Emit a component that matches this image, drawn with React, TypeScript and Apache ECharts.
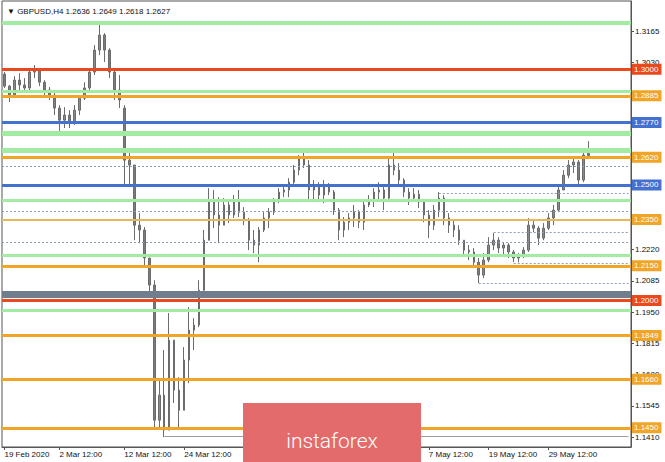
import React, { useEffect, useRef } from 'react';
import * as echarts from 'echarts';

const FONT = '"Liberation Sans", Arial, sans-serif';

// Title / last bar
const symbolName = 'GBPUSD,H4';
const lastBar = [1.2636, 1.2649, 1.2618, 1.2627];

// Candles (one candle ~ a group of H4 bars)
const openV = [
  1.2979, 1.2927, 1.2884, 1.2953, 1.2932, 1.2919, 1.2988, 1.2996, 1.2944, 1.2910,
  1.2888, 1.2832, 1.2780, 1.2802, 1.2772, 1.2823, 1.2875, 1.2919, 1.2988, 1.3083,
  1.3148, 1.3083, 1.2988, 1.2910, 1.2832, 1.2607, 1.2586, 1.2326, 1.2305, 1.2184,
  1.2067, 1.1483, 1.1591, 1.1440, 1.1829, 1.1613, 1.1526, 1.1743, 1.1872, 1.1894,
  1.2045, 1.2261, 1.2434, 1.2370, 1.2326, 1.2413, 1.2370, 1.2434, 1.2382, 1.2348,
  1.2261, 1.2240, 1.2305, 1.2357, 1.2382, 1.2434, 1.2469, 1.2478, 1.2512, 1.2564,
  1.2616, 1.2586, 1.2478, 1.2499, 1.2456, 1.2499, 1.2469, 1.2391, 1.2305, 1.2339,
  1.2357, 1.2382, 1.2339, 1.2413, 1.2434, 1.2469, 1.2478, 1.2443, 1.2586, 1.2564,
  1.2521, 1.2469, 1.2443, 1.2460, 1.2426, 1.2370, 1.2326, 1.2391, 1.2443, 1.2357,
  1.2326, 1.2305, 1.2261, 1.2218, 1.2210, 1.2166, 1.2110, 1.2175, 1.2240, 1.2261,
  1.2227, 1.2240, 1.2210, 1.2184, 1.2192, 1.2218, 1.2326, 1.2313, 1.2270, 1.2313,
  1.2357, 1.2391, 1.2478, 1.2542, 1.2586, 1.2599, 1.2521, 1.2636,
];
const closeV = [
  1.2927, 1.2884, 1.2953, 1.2932, 1.2919, 1.2988, 1.2996, 1.2944, 1.2910, 1.2888,
  1.2832, 1.2780, 1.2802, 1.2772, 1.2823, 1.2875, 1.2919, 1.2988, 1.3083, 1.3148,
  1.3083, 1.2988, 1.2910, 1.2867, 1.2607, 1.2586, 1.2326, 1.2305, 1.2184, 1.2067,
  1.1483, 1.1591, 1.1440, 1.1829, 1.1613, 1.1526, 1.1743, 1.1872, 1.1894, 1.2045,
  1.2261, 1.2434, 1.2370, 1.2326, 1.2413, 1.2370, 1.2434, 1.2382, 1.2348, 1.2261,
  1.2240, 1.2305, 1.2357, 1.2382, 1.2434, 1.2469, 1.2478, 1.2512, 1.2564, 1.2616,
  1.2586, 1.2478, 1.2499, 1.2456, 1.2499, 1.2469, 1.2391, 1.2305, 1.2339, 1.2357,
  1.2382, 1.2339, 1.2413, 1.2434, 1.2469, 1.2478, 1.2443, 1.2586, 1.2564, 1.2521,
  1.2469, 1.2443, 1.2460, 1.2426, 1.2370, 1.2326, 1.2391, 1.2443, 1.2357, 1.2326,
  1.2305, 1.2261, 1.2218, 1.2210, 1.2166, 1.2110, 1.2175, 1.2240, 1.2261, 1.2227,
  1.2240, 1.2210, 1.2184, 1.2192, 1.2218, 1.2326, 1.2313, 1.2270, 1.2313, 1.2357,
  1.2391, 1.2478, 1.2542, 1.2586, 1.2599, 1.2521, 1.2629, 1.2627,
];
const lowV = [
  1.2919, 1.2858, 1.2875, 1.2910, 1.2897, 1.2910, 1.2962, 1.2927, 1.2888, 1.2867,
  1.2802, 1.2728, 1.2746, 1.2746, 1.2759, 1.2802, 1.2867, 1.2910, 1.2975, 1.3061,
  1.3031, 1.2962, 1.2867, 1.2832, 1.2491, 1.2499, 1.2261, 1.2248, 1.2153, 1.2011,
  1.1453, 1.1453, 1.1410, 1.1440, 1.1557, 1.1453, 1.1526, 1.1643, 1.1786, 1.1885,
  1.2024, 1.2261, 1.2313, 1.2248, 1.2326, 1.2335, 1.2357, 1.2361, 1.2326, 1.2218,
  1.2205, 1.2166, 1.2296, 1.2313, 1.2370, 1.2421, 1.2447, 1.2447, 1.2499, 1.2542,
  1.2573, 1.2434, 1.2434, 1.2426, 1.2421, 1.2456, 1.2370, 1.2261, 1.2274, 1.2305,
  1.2318, 1.2313, 1.2305, 1.2404, 1.2404, 1.2426, 1.2391, 1.2434, 1.2542, 1.2499,
  1.2447, 1.2413, 1.2426, 1.2400, 1.2339, 1.2270, 1.2305, 1.2361, 1.2326, 1.2292,
  1.2274, 1.2240, 1.2197, 1.2175, 1.2153, 1.2076, 1.2097, 1.2166, 1.2218, 1.2205,
  1.2197, 1.2184, 1.2166, 1.2166, 1.2184, 1.2210, 1.2296, 1.2240, 1.2261, 1.2305,
  1.2326, 1.2382, 1.2478, 1.2529, 1.2551, 1.2503, 1.2512, 1.2616,
];
const highV = [
  1.2988, 1.2932, 1.2970, 1.2983, 1.2962, 1.3005, 1.3018, 1.3005, 1.2953, 1.2923,
  1.2901, 1.2845, 1.2836, 1.2823, 1.2845, 1.2888, 1.2944, 1.3005, 1.3104, 1.3204,
  1.3156, 1.3091, 1.3005, 1.2975, 1.2845, 1.2650, 1.2586, 1.2378, 1.2318, 1.2184,
  1.2088, 1.1656, 1.1786, 1.1946, 1.1829, 1.1669, 1.1799, 1.1972, 1.1924, 1.2088,
  1.2305, 1.2486, 1.2478, 1.2447, 1.2443, 1.2434, 1.2456, 1.2478, 1.2404, 1.2357,
  1.2305, 1.2318, 1.2382, 1.2400, 1.2443, 1.2486, 1.2495, 1.2529, 1.2586, 1.2629,
  1.2646, 1.2607, 1.2521, 1.2512, 1.2521, 1.2508, 1.2478, 1.2400, 1.2361, 1.2378,
  1.2413, 1.2391, 1.2434, 1.2456, 1.2486, 1.2512, 1.2495, 1.2616, 1.2642, 1.2594,
  1.2529, 1.2486, 1.2486, 1.2478, 1.2434, 1.2391, 1.2413, 1.2469, 1.2456, 1.2378,
  1.2348, 1.2326, 1.2261, 1.2240, 1.2227, 1.2184, 1.2205, 1.2274, 1.2292, 1.2274,
  1.2253, 1.2248, 1.2218, 1.2205, 1.2231, 1.2357, 1.2348, 1.2322, 1.2335, 1.2378,
  1.2413, 1.2499, 1.2564, 1.2607, 1.2620, 1.2607, 1.2650, 1.2689,
];

const totalSlots = 126; // includes empty right shift
const xLabelIndex = [0, 11, 24, 36, 85, 97, 109];
const xLabelText = ['19 Feb 2020', '2 Mar 12:00', '12 Mar 12:00', '24 Mar 12:00', '7 May 12:00', '19 May 12:00', '29 May 12:00'];

const yTicks = [1.1410, 1.1545, 1.1680, 1.1815, 1.1950, 1.2085, 1.2220, 1.2355, 1.2490, 1.2625, 1.2760, 1.2895, 1.3030, 1.3165];

// Horizontal levels
const greenLevels = [1.3201, 1.2907, 1.2725, 1.2650, 1.2434, 1.2197, 1.1959];
const greenWidths = [4, 3, 5, 5, 3, 3, 3];
const orangeLevels = [1.2885, 1.2620, 1.2150, 1.1849, 1.1660, 1.1450];
const goldLevels = [1.2350];
const redLevels = [1.3000, 1.2000];
const blueLevels = [1.2770, 1.2500];
const slateLevels = [1.2026];
const dashedFull = [1.2581, 1.2387, 1.2250];
const dashedPartialPrice = [1.2466, 1.2297, 1.2162, 1.2073];
const dashedPartialFrom = [87, 98, 102, 95];
const lowLinePrice = [1.1414];
const lowLineFrom = [32];

const C_GREEN = '#a3eaa3';
const C_ORANGE = '#f0a428';
const C_GOLD = '#e9b658';
const C_RED = '#e8491d';
const C_BLUE = '#4470d0';
const C_SLATE = '#6f7d8c';
const C_DASH = '#8e9db2';

function tag(bg: string, v: number) {
  const txt = v.toFixed(4);
  return {
    show: true,
    position: 'end',
    distance: 1,
    formatter: () => txt,
    backgroundColor: bg,
    color: '#ffffff',
    fontSize: 8,
    fontFamily: FONT,
    padding: [2, 3, 1, 2],
  };
}
const noLabel = { show: false };

export default function App() {
  const ref = useRef<HTMLDivElement>(null);
  useEffect(() => {
    document.body.style.margin = '0';
    const chart = echarts.init(ref.current!, null, { renderer: 'svg' });

    const cats = Array.from({ length: totalSlots }, (_, i) => 'c' + i);
    const labelFor = (i: number) => {
      const k = xLabelIndex.indexOf(i);
      return k >= 0 ? xLabelText[k] : '';
    };
    const candleData = openV.map((o, i) => [o, closeV[i], lowV[i], highV[i]]);
    const lastIdx = totalSlots - 1;

    const ml: any[] = [];
    greenLevels.forEach((v, i) =>
      ml.push({ yAxis: v, lineStyle: { color: C_GREEN, width: greenWidths[i], type: 'solid' }, label: noLabel })
    );
    dashedFull.forEach((v) =>
      ml.push({ yAxis: v, lineStyle: { color: C_DASH, width: 1, type: [2, 2] }, label: noLabel })
    );
    dashedPartialPrice.forEach((v, i) =>
      ml.push([
        { coord: [dashedPartialFrom[i], v], lineStyle: { color: C_DASH, width: 1, type: [2, 2] }, label: noLabel },
        { coord: [lastIdx, v] },
      ])
    );
    lowLinePrice.forEach((v, i) =>
      ml.push([
        { coord: [lowLineFrom[i], v], lineStyle: { color: '#9c9c9c', width: 1, type: 'solid' }, label: noLabel },
        { coord: [lastIdx, v] },
      ])
    );
    slateLevels.forEach((v) =>
      ml.push({ yAxis: v, lineStyle: { color: C_SLATE, width: 7, type: 'solid' }, label: noLabel })
    );
    goldLevels.forEach((v) =>
      ml.push({ yAxis: v, lineStyle: { color: C_GOLD, width: 2, type: 'solid' }, label: tag(C_ORANGE, v) })
    );
    blueLevels.forEach((v) =>
      ml.push({ yAxis: v, lineStyle: { color: C_BLUE, width: 3, type: 'solid' }, label: tag(C_BLUE, v) })
    );
    redLevels.forEach((v) =>
      ml.push({ yAxis: v, lineStyle: { color: C_RED, width: 3, type: 'solid' }, label: tag(C_RED, v) })
    );
    // current price tag (black), partly hidden under the 1.2620 tag
    ml.push({ yAxis: lastBar[3], lineStyle: { opacity: 0, width: 0 }, label: tag('#000000', lastBar[3]) });
    orangeLevels.forEach((v) =>
      ml.push({ yAxis: v, lineStyle: { color: C_ORANGE, width: 3, type: 'solid' }, label: tag(C_ORANGE, v) })
    );

    const option: any = {
      animation: false,
      backgroundColor: '#ffffff',
      textStyle: { fontFamily: FONT },
      title: {
        text: '\u25BC ' + symbolName + ' ' + lastBar.map((v) => v.toFixed(4)).join(' '),
        left: 2,
        top: 2,
        textStyle: { fontSize: 8, fontWeight: 'normal', color: '#111', fontFamily: FONT },
      },
      grid: {
        left: 2,
        right: 34,
        top: 1,
        bottom: 15,
        show: true,
        borderColor: '#555',
        borderWidth: 1,
        backgroundColor: '#ffffff',
      },
      xAxis: {
        type: 'category',
        data: cats,
        boundaryGap: true,
        axisLine: { show: true, lineStyle: { color: '#555' } },
        axisTick: {
          show: true,
          length: 3,
          alignWithLabel: true,
          interval: (i: number) => xLabelIndex.indexOf(i) >= 0,
          lineStyle: { color: '#555' },
        },
        axisLabel: {
          interval: 0,
          formatter: (_v: string, i: number) => labelFor(i),
          align: 'left',
          fontSize: 8,
          color: '#111',
          margin: 3,
          fontFamily: FONT,
        },
        splitLine: { show: false },
      },
      yAxis: {
        type: 'value',
        position: 'right',
        min: 1.1367,
        max: 1.3295,
        axisLine: { show: true, lineStyle: { color: '#555' } },
        axisTick: { show: true, length: 3, customValues: yTicks, lineStyle: { color: '#555' } },
        axisLabel: {
          customValues: yTicks,
          formatter: (v: number) => v.toFixed(4),
          fontSize: 8,
          color: '#111',
          margin: 4,
          fontFamily: FONT,
        },
        splitLine: { show: false },
      },
      series: [
        {
          type: 'line',
          data: [],
          z: 1,
          silent: true,
          symbol: 'none',
          markLine: { symbol: ['none', 'none'], silent: true, precision: 4, animation: false, data: ml },
        },
        {
          type: 'candlestick',
          data: candleData,
          z: 3,
          barWidth: 2,
          silent: true,
          itemStyle: {
            color: '#8a8a8a',
            color0: '#7c7c7c',
            borderColor: '#6c6c6c',
            borderColor0: '#6c6c6c',
            borderWidth: 1,
          },
        },
      ],
      graphic: [
        {
          type: 'rect',
          z: 100,
          shape: { x: 243, y: 403, width: 178, height: 59 },
          style: { fill: '#e36b6b' },
        },
        {
          type: 'text',
          z: 101,
          x: 332,
          y: 441,
          style: {
            text: 'instaforex',
            fill: '#ffffff',
            font: '300 21px Roboto, "Liberation Sans", sans-serif',
            textAlign: 'center',
            textVerticalAlign: 'middle',
          },
        },
      ],
    };
    chart.setOption(option);
    return () => chart.dispose();
  }, []);
  return <div ref={ref} style={{ width: 665, height: 462 }} />;
}
